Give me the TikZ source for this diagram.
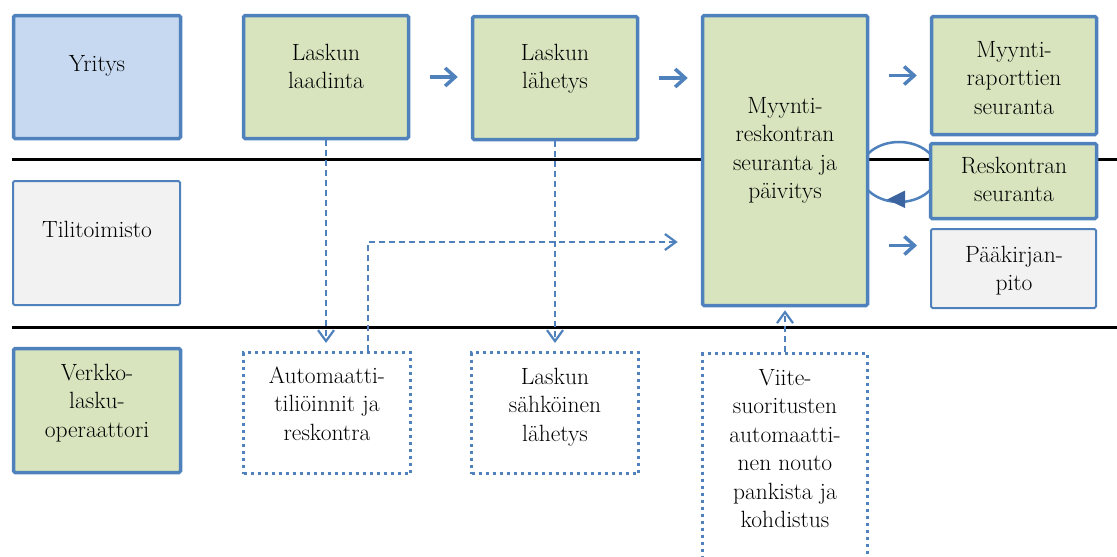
\documentclass[tikz,border=0pt]{standalone}
\usetikzlibrary{arrows.meta,calc}
\definecolor{edge}{HTML}{4F81BD}
\definecolor{skyfill}{HTML}{C6D9F1}
\definecolor{leaf}{HTML}{D7E4BD}
\definecolor{mist}{HTML}{F2F2F2}
\definecolor{tipblue}{HTML}{3C64A0}

\begin{document}
\begin{tikzpicture}[x=1pt,y=-1pt,
  box/.style={draw=edge, line width=3.5pt, rounded corners=1.5pt, inner sep=0pt},
  thinbox/.style={draw=edge, line width=2pt, rounded corners=1.5pt, fill=mist, inner sep=0pt},
  dotbox/.style={draw=edge, line width=3pt, dash pattern=on 3pt off 4pt, fill=white, inner sep=0pt},
  txt/.style={font=\rmfamily\fontsize{23.5}{28.5}\selectfont, align=center, inner sep=0pt, anchor=north},
  flow/.style={draw=edge, line width=3.5pt, -{Straight Barb[length=10pt,width=18pt,line width=3.5pt]}},
  feed/.style={draw=edge, line width=2pt, dash pattern=on 6pt off 4pt, -{Straight Barb[length=11pt,width=16pt,line width=2.2pt]}},
  lane/.style={draw=black, line width=2.5pt},
]
\clip (0,0) rectangle (1117,557);

% lane separators
\draw[lane] (12,159.5) -- (1117,159.5);
\draw[lane] (12,327.5) -- (1117,327.5);

% update loop between the ledger boxes (its sides sit behind the boxes)
\draw[edge, line width=2.5pt] (899,172) ellipse [x radius=39, y radius=30];

% boxes
\node[box, fill=skyfill, minimum width=167pt, minimum height=123pt] (yritys) at (97,77) {};
\node[box, fill=leaf, minimum width=165pt, minimum height=123pt] (laadinta) at (326,77) {};
\node[box, fill=leaf, minimum width=165pt, minimum height=123pt] (lahetys) at (555,78) {};
\node[box, fill=leaf, minimum width=165pt, minimum height=290pt] (myynti) at (785,160.5) {};
\node[box, fill=leaf, minimum width=165pt, minimum height=118pt] (raport) at (1014,75.5) {};
\node[box, fill=leaf, minimum width=166pt, minimum height=75pt] (resk) at (1013.5,181) {};
\node[thinbox, minimum width=165pt, minimum height=79pt] (paakirja) at (1013.5,268.5) {};
\node[thinbox, minimum width=167pt, minimum height=124pt] (tili) at (96.5,243) {};
\node[box, fill=leaf, minimum width=167pt, minimum height=124pt] (verkko) at (97,410.5) {};
\node[dotbox, minimum width=167pt, minimum height=121pt] (autom) at (327,413) {};
\node[dotbox, minimum width=167pt, minimum height=121pt] (sahko) at (555,413) {};
\node[dotbox, minimum width=165pt, minimum height=245pt] (viite) at (785,476) {};

% texts
\node[txt] (yritys-t) at (97,51) {\strut Yritys};
\node[txt] (laadinta-t) at (326,40) {\strut Laskun\\laadinta};
\node[txt] (lahetys-t) at (555,40) {\strut Laskun\\lähetys};
\node[txt] (myynti-t) at (785,93) {\strut Myynti-\\reskontran\\seuranta ja\\päivitys};
\node[txt] (raport-t) at (1014,37) {\strut Myynti-\\raporttien\\seuranta};
\node[txt] (resk-t) at (1014,153) {\strut Reskontran\\seuranta};
\node[txt] (paakirja-t) at (1014,242) {\strut Pääkirjan-\\pito};
\node[txt] (tili-t) at (97,217) {\strut Tilitoimisto};
\node[txt] (verkko-t) at (97,360) {\strut Verkko-\\lasku-\\operaattori};
\node[txt] (autom-t) at (327,363) {\strut Automaatti-\\tiliöinnit ja\\reskontra};
\node[txt] (sahko-t) at (555,364) {\strut Laskun\\sähköinen\\lähetys};
\node[txt] (viite-t) at (785,365) {\strut Viite-\\suoritusten\\automaatti-\\nen nouto\\pankista ja\\kohdistus};

% arrow tip of the update loop
\fill[tipblue] (887,199.5) -- (905,190.5) -- (905,208) -- cycle;

% main flow
\draw[flow, shorten <=20pt, shorten >=13pt] (laadinta.east) -- (laadinta.east -| lahetys.west);
\draw[flow, shorten <=20pt, shorten >=13pt] (lahetys.east) -- (lahetys.east -| myynti.west);
\draw[flow, shorten <=20pt, shorten >=13pt] (raport.west -| myynti.east) -- (raport.west);
\draw[flow, shorten <=20pt, shorten >=13pt] ($(paakirja.west -| myynti.east)+(0,-23)$) -- ($(paakirja.west)+(0,-23)$);

% electronic data flows
\draw[feed, shorten >=8pt] (laadinta.south) -- (laadinta.south |- autom.north);
\draw[feed, shorten >=8pt] (lahetys.south) -- (lahetys.south |- sahko.north);
\draw[feed, shorten >=23pt] ($(autom.north)+(41,0)$) |- ($(myynti.west)+(0,81.5)$);
\draw[feed, shorten >=3pt] (viite.north) -- (myynti.south);
\end{tikzpicture}
\end{document}
